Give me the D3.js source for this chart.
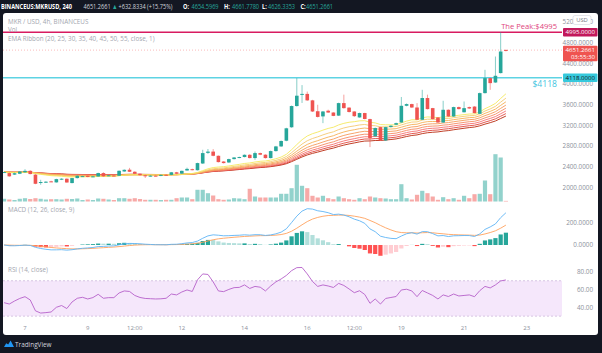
<!DOCTYPE html>
<html>
<head>
<meta charset="utf-8">
<script src="https://cdn.jsdelivr.net/npm/d3@7"></script>
<style>
  html, body { margin: 0; padding: 0; background: #131722; }
  svg { display: block; font-family: "Open Sans", Roboto, sans-serif; }
</style>
</head>
<body>
<div id="chart"></div>
<script>
// 4h candles, BINANCEUS:MKRUSD, first bar = 6 Feb 2021 08:00 UTC
const firstBar = Date.UTC(2021, 1, 6, 8);
const opens = [2290,2275,2245,2262,2290,2318,2245,2090,2098,2115,2095,2150,2166,2082,2178,2212,2222,2200,2209,2275,
  2220,2228,2223,2306,2340,2300,2262,2232,2215,2225,2222,2242,2240,2290,2265,2325,2350,2330,2460,2665,
  2690,2609,2498,2480,2545,2570,2585,2628,2565,2661,2630,2565,2700,2790,2900,3160,3570,3790,3805,3680,
  3470,3370,3480,3445,3385,3627,3540,3465,3350,3435,3318,2985,3163,2905,3165,3210,3252,3575,3608,3542,
  3305,3725,3530,3350,3252,3498,3368,3550,3450,3550,3560,3420,3820,4110,4025,4207,4654.5969];
const highs = [2300,2285,2282,2312,2350,2330,2255,2145,2118,2126,2165,2175,2172,2182,2230,2222,2228,2218,2282,2290,
  2240,2232,2325,2345,2375,2310,2268,2240,2232,2230,2245,2248,2296,2298,2322,2380,2360,2475,2725,2740,
  2738,2615,2505,2552,2585,2592,2635,2640,2692,2670,2638,2710,2800,2905,3150,3580,4110,3975,3850,3690,
  3595,3475,3500,3450,3635,3790,3545,3470,3442,3440,3325,3155,3170,3170,3200,3250,3745,3620,3615,3627,
  3884,3790,3535,3355,3672,3505,3558,3560,3658,3560,3566,3830,4270,4120,4527,4995,4661.778];
const lows = [2283,2205,2238,2255,2282,2250,2060,2049,2085,2100,2090,2140,2088,2076,2170,2205,2195,2195,2205,2205,
  2215,2215,2218,2300,2295,2255,2228,2180,2208,2212,2215,2230,2235,2255,2258,2320,2328,2325,2450,2645,
  2600,2480,2460,2470,2538,2562,2578,2558,2530,2622,2555,2558,2690,2780,2890,3150,3560,3630,3670,3455,
  3350,3240,3438,3375,3378,3520,3445,3360,3345,3312,2777,2975,2895,2895,3155,3200,3245,3565,3535,3298,
  3298,3505,3310,3245,3245,3360,3360,3505,3445,3515,3428,3413,3812,3884,4018,4200,4626.3353];
const closes = [2295,2212,2272,2305,2318,2256,2068,2102,2108,2110,2158,2166,2093,2178,2223,2216,2200,2212,2275,2212,
  2232,2222,2319,2338,2300,2261,2235,2215,2225,2218,2240,2236,2290,2262,2318,2356,2335,2468,2661,2690,
  2609,2487,2468,2545,2576,2585,2628,2565,2661,2630,2565,2700,2790,2895,3140,3570,3770,3805,3680,3465,
  3360,3465,3445,3380,3627,3530,3455,3375,3435,3320,2951,3145,2905,3163,3190,3240,3575,3608,3542,3305,
  3725,3511,3318,3252,3498,3368,3550,3511,3530,3523,3434,3820,4110,4013,4155,4624,4651.2661];
const volumes = [270,200,150,270,330,250,330,270,200,230,230,200,270,250,300,150,200,150,300,270,
  200,150,330,330,270,330,250,170,170,170,150,170,170,330,400,400,230,1170,1170,830,
  600,230,170,200,330,300,230,1270,500,400,400,400,400,770,770,1330,3670,1570,1330,570,
  400,570,330,230,500,330,230,170,330,230,500,400,330,300,230,230,1730,330,200,670,
  1070,830,500,170,430,230,330,170,570,330,730,770,2100,730,4730,4400,60];
const rsiValues = [45.2,43.7,47.1,50,52,48.3,36,33.5,34,34.7,40,42,38.6,46,50.2,51.3,49.4,51,54.7,50.2,
  50.9,50.9,56.2,58.5,57.9,53.4,51.1,50,49.7,49.4,49.6,50.2,55,54,57.3,59.6,57.9,71,77.7,77.1,
  68.7,58.5,57.7,60.2,62.2,62.5,65.3,61.3,63.6,62.7,58.5,64.1,68.7,72,76,81.4,84.8,85,77.7,69.2,
  63.6,65.3,64.1,62.4,67,64.7,60.7,56.5,58.7,54.5,44.5,49.4,43.7,50,51.1,52.2,59.6,60.4,58.5,52,
  59,56.2,53.4,49.4,54,52.2,55,52.8,53.4,54,52,58.8,63.6,61.9,65.3,69.8,70.9];

const priceTicks = [2000, 2400, 2800, 3200, 3600, 4000, 4400, 4800, 5200];
const macdTicks = [0, 200];
const rsiTicks = [40, 60, 80];
const timeTicks = [
  { t: Date.UTC(2021, 1, 7), label: "7" },
  { t: Date.UTC(2021, 1, 9), label: "9" },
  { t: Date.UTC(2021, 1, 10, 12), label: "12:00" },
  { t: Date.UTC(2021, 1, 12), label: "12" },
  { t: Date.UTC(2021, 1, 14), label: "14" },
  { t: Date.UTC(2021, 1, 16), label: "16" },
  { t: Date.UTC(2021, 1, 17, 12), label: "12:00" },
  { t: Date.UTC(2021, 1, 19), label: "19" },
  { t: Date.UTC(2021, 1, 21), label: "21" },
  { t: Date.UTC(2021, 1, 23), label: "23" }
];
const emaLengths = [20, 25, 30, 35, 40, 45, 50, 55];
const emaColors = ["#f5e95d", "#f5c971", "#f5b056", "#f59a5a", "#f58a62", "#f57171", "#e0473e", "#b92a10"];
const peakPrice = 4995, supportPrice = 4118;

const up = "#26a69a", down = "#ef5350";
const W = 602, H = 353;
const plotL = 3, plotR = 562;

const bars = closes.map((c, i) => ({
  t: new Date(firstBar + i * 4 * 3600e3),
  o: opens[i], h: highs[i], l: lows[i], c: c, v: volumes[i], rsi: rsiValues[i]
}));

// indicators computed from the closes, as the platform does
function ema(values, n) {
  const a = 2 / (n + 1);
  let e = values[0];
  return values.map((v, i) => i === 0 ? e : (e = a * v + (1 - a) * e));
}
const ribbons = emaLengths.map(n => ema(closes, n));
const ema12 = ema(closes, 12), ema26 = ema(closes, 26);
const macd = ema12.map((v, i) => v - ema26[i]);
const signal = ema(macd, 9);
const hist = macd.map((v, i) => v - signal[i]);

const x = d3.scaleUtc()
  .domain([new Date(Date.UTC(2021, 1, 7)), new Date(Date.UTC(2021, 1, 23))])
  .range([25, 526.8]);
const y = d3.scaleLinear().domain([2000, 5200]).range([187.3, 21.7]);
const yVol = d3.scaleLinear().domain([0, 5000]).range([201.5, 151.5]);
const yMacd = d3.scaleLinear().domain([0, 200]).range([245, 222.7]);
const yRsi = d3.scaleLinear().domain([40, 80]).range([307.3, 271.9]);

const svg = d3.select("#chart").append("svg").attr("width", W).attr("height", H);
svg.append("rect").attr("width", W).attr("height", H).attr("fill", "#131722");
svg.append("rect").attr("x", 3).attr("y", 13).attr("width", 595).attr("height", 322)
  .attr("rx", 3).attr("fill", "#ffffff");

svg.append("clipPath").attr("id", "plot")
  .append("rect").attr("x", plotL).attr("y", 13).attr("width", plotR - plotL).attr("height", 308);

const g = svg.append("g").attr("clip-path", "url(#plot)");

// RSI band
g.append("rect").attr("x", plotL).attr("width", plotR - plotL)
  .attr("y", yRsi(70)).attr("height", yRsi(30) - yRsi(70)).attr("fill", "#f5e7fb");
[70, 30].forEach(v => {
  g.append("line").attr("x1", plotL).attr("x2", plotR).attr("y1", yRsi(v)).attr("y2", yRsi(v))
    .attr("stroke", "#cdb9dc").attr("stroke-dasharray", "2,2").attr("stroke-width", 0.8);
});

// volume
const bw = 4.2;
g.selectAll(".vol").data(bars).enter().append("rect")
  .attr("x", d => x(d.t) - bw / 2).attr("width", bw)
  .attr("y", d => yVol(d.v)).attr("height", d => yVol(0) - yVol(d.v))
  .attr("fill", d => d.c >= d.o ? "rgba(38,166,154,0.5)" : "rgba(239,83,80,0.5)");

// EMA ribbon (slowest first so the yellow line sits on top)
ribbons.slice().reverse().forEach((vals, j) => {
  const idx = ribbons.length - 1 - j;
  g.append("path").datum(vals)
    .attr("fill", "none").attr("stroke", emaColors[idx]).attr("stroke-width", 0.9)
    .attr("d", d3.line().x((v, i) => x(bars[i].t)).y(v => y(v)));
});

// horizontal levels
g.append("line").attr("x1", plotL).attr("x2", 600).attr("y1", y(peakPrice)).attr("y2", y(peakPrice))
  .attr("stroke", "#d81b60").attr("stroke-width", 1.4);
g.append("line").attr("x1", plotL).attr("x2", 600).attr("y1", y(supportPrice)).attr("y2", y(supportPrice))
  .attr("stroke", "#5ed3e3").attr("stroke-width", 1.4);
const last = bars[bars.length - 1];
g.append("line").attr("x1", plotL).attr("x2", plotR).attr("y1", y(last.c)).attr("y2", y(last.c))
  .attr("stroke", "#ef5350").attr("stroke-opacity", 0.5).attr("stroke-dasharray", "1,2").attr("stroke-width", 0.8);

// candles
const cw = 3.6;
const candle = g.selectAll(".candle").data(bars).enter().append("g");
candle.append("line")
  .attr("x1", d => x(d.t)).attr("x2", d => x(d.t))
  .attr("y1", d => y(d.h)).attr("y2", d => y(d.l))
  .attr("stroke", d => d.c >= d.o ? up : down).attr("stroke-opacity", 0.55).attr("stroke-width", 1);
candle.append("rect")
  .attr("x", d => x(d.t) - cw / 2).attr("width", cw)
  .attr("y", d => y(Math.max(d.o, d.c)))
  .attr("height", d => Math.max(1, Math.abs(y(d.o) - y(d.c))))
  .attr("fill", d => d.c >= d.o ? up : down);

// MACD
g.selectAll(".hist").data(hist).enter().append("rect")
  .attr("x", (v, i) => x(bars[i].t) - bw / 2).attr("width", bw)
  .attr("y", v => Math.min(yMacd(v), yMacd(0)))
  .attr("height", v => Math.abs(yMacd(v) - yMacd(0)))
  .attr("fill", (v, i) => {
    const p = i > 0 ? hist[i - 1] : v;
    if (v >= 0) return v > p ? "#26a69a" : "#b2dfdb";
    return v < p ? "#ff5252" : "#ffcdd2";
  });
g.append("path").datum(signal).attr("fill", "none").attr("stroke", "#ffa15e").attr("stroke-width", 0.9)
  .attr("d", d3.line().x((v, i) => x(bars[i].t)).y(v => yMacd(v)));
g.append("path").datum(macd).attr("fill", "none").attr("stroke", "#5fb4f5").attr("stroke-width", 0.9)
  .attr("d", d3.line().x((v, i) => x(bars[i].t)).y(v => yMacd(v)));

// RSI
g.append("path").datum(bars).attr("fill", "none").attr("stroke", "#b660c9").attr("stroke-width", 0.9)
  .attr("d", d3.line().x(d => x(d.t)).y(d => yRsi(d.rsi)));

// right axis labels
const axisColor = "#8c909b";
const axisFont = "6.3px";
svg.selectAll(".pt").data(priceTicks).enter().append("text")
  .attr("x", 593).attr("y", d => y(d) + 2.4).attr("text-anchor", "end")
  .attr("font-size", axisFont).attr("fill", axisColor).text(d => d.toFixed(4));
svg.selectAll(".mt").data(macdTicks).enter().append("text")
  .attr("x", 593).attr("y", d => yMacd(d) + 2.2).attr("text-anchor", "end")
  .attr("font-size", axisFont).attr("fill", axisColor).text(d => d.toFixed(4));
svg.selectAll(".rt").data(rsiTicks).enter().append("text")
  .attr("x", 593).attr("y", d => yRsi(d) + 2.2).attr("text-anchor", "end")
  .attr("font-size", axisFont).attr("fill", axisColor).text(d => d.toFixed(2));

// time axis
svg.selectAll(".tt").data(timeTicks).enter().append("text")
  .attr("x", d => x(new Date(d.t))).attr("y", 330).attr("text-anchor", "middle")
  .attr("font-size", "6px").attr("fill", axisColor).text(d => d.label);

// USD button over the top label
svg.append("rect").attr("x", 573).attr("y", 15.5).attr("width", 18).attr("height", 9).attr("rx", 2)
  .attr("fill", "#fff").attr("stroke", "#d1d4dc").attr("stroke-width", 0.6);
svg.append("text").attr("x", 582).attr("y", 22.2).attr("text-anchor", "middle")
  .attr("font-size", "5.8px").attr("fill", "#787b86").text("USD");

// price labels on the axis
function axisLabel(price, fill, color, h, lines) {
  const cy = y(price);
  svg.append("rect").attr("x", 563).attr("y", cy - h / 2 + (lines.length > 1 ? 3.3 : 0)).attr("width", 34.5).attr("height", h)
    .attr("fill", fill).attr("rx", 1);
  lines.forEach((t, i) => {
    svg.append("text").attr("x", 595).attr("y", cy + 1.9 + i * 7).attr("text-anchor", "end")
      .attr("font-size", "6.1px").attr("fill", color).text(t);
  });
}
axisLabel(peakPrice, "#c2185b", "#fff", 8.5, [peakPrice.toFixed(4)]);
axisLabel(last.c, "#ef5350", "#fff", 15.5, [last.c.toFixed(4), "03:55:30"]);
axisLabel(supportPrice, "#36c9dc", "#131722", 8.5, [supportPrice.toFixed(4)]);

// annotations
svg.append("text").attr("x", 557).attr("y", 29).attr("text-anchor", "end")
  .attr("font-size", "7.6px").attr("fill", "#e0457d").text("The Peak:$" + peakPrice);
svg.append("text").attr("x", 557).attr("y", 86.5).attr("text-anchor", "end")
  .attr("font-size", "8.6px").attr("fill", "#3fc4e0").text("$" + supportPrice);

// legends
const legColor = "#a3a6af";
[["MKR / USD, 4h, BINANCEUS", 23.8], ["Vol", 31.8], ["EMA Ribbon (20, 25, 30, 35, 40, 45, 50, 55, close, 1)", 40.8],
 ["MACD (12, 26, close, 9)", 212.2], ["RSI (14, close)", 272.2]].forEach(([t, yy]) => {
  svg.append("text").attr("x", 8).attr("y", yy).attr("font-size", "6.3px").attr("fill", legColor).text(t);
});

// header: one text line, squeezed horizontally like the screenshot
const sx = 0.78;
const header = [
  ["BINANCEUS:MKRUSD, 240", 1, "#ffffff", 700],
  ["4651.2661", 83.5, "#d1d4dc", 400],
  ["\u25B2", 112, up, 400],
  ["+632.8334 (+15.75%)", 118.5, "#d1d4dc", 400],
  ["O:", 183, "#ffffff", 700],
  ["4654.5969", 191.5, up, 400],
  ["H:", 224, "#ffffff", 700],
  ["4661.7780", 232, up, 400],
  ["L:", 262, "#ffffff", 700],
  ["4626.3353", 268, up, 400],
  ["C:", 300.5, "#ffffff", 700],
  ["4651.2661", 306, up, 400]
];
const headText = svg.append("g").attr("transform", `scale(${sx},1)`)
  .append("text").attr("y", 8.6).attr("font-size", "7.2px");
header.forEach(([t, xx, col, wt]) => {
  headText.append("tspan").attr("x", xx / sx).attr("fill", col).attr("font-weight", wt).text(t);
});

// footer logo
const logo = svg.append("g").attr("transform", "translate(4,340)");
logo.append("path").attr("d", "M0,7 L2.2,3.2 L4.2,4.6 L6.6,0.6 L10,7 Z").attr("fill", "#2196f3");
svg.append("text").attr("x", 15).attr("y", 346.5).attr("font-size", "6.4px").attr("fill", "#d1d4dc").text("TradingView");
</script>
</body>
</html>
